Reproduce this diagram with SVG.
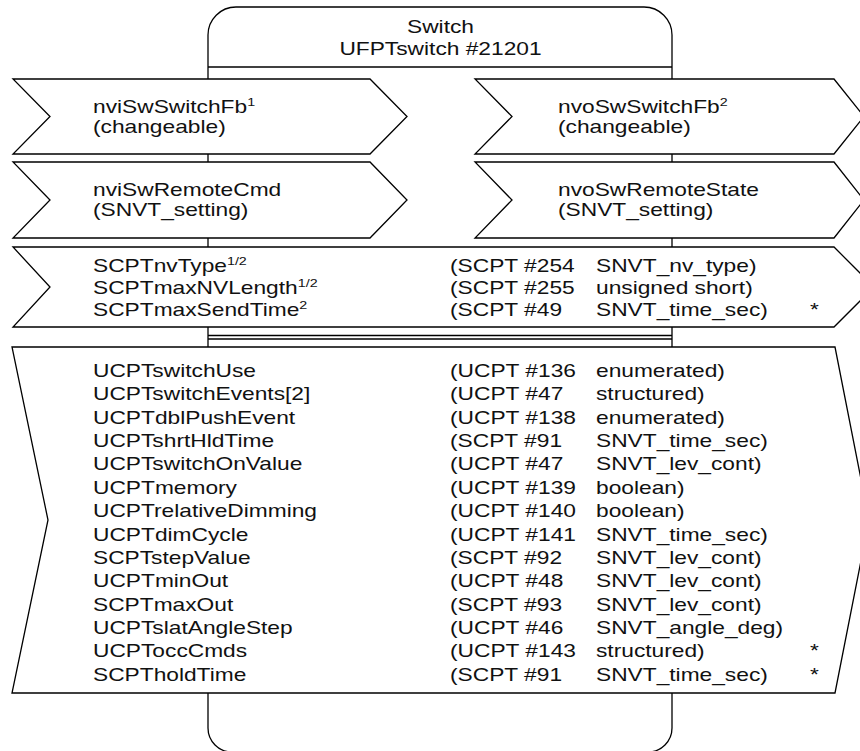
<svg xmlns="http://www.w3.org/2000/svg" width="860" height="751" viewBox="0 0 860 751">
  <style>
    .shape { fill: #fff; stroke: #000; stroke-width: 1.3; stroke-linejoin: miter; }
    .line { fill: none; stroke: #000; stroke-width: 1.3; }
    text { font-family: "Liberation Sans", Arial, sans-serif; font-size: 17.5px; fill: #111; }
    .sup { font-size: 11px; }
    .mid { text-anchor: middle; }
  </style>
  <rect width="860" height="751" fill="#fff"/>

  <!-- functional block body -->
  <g id="block">
    <path class="shape" d="M208,35 A28,28 0 0 1 236,7 L644,7 A28,28 0 0 1 672,35 L672,728 A24,24 0 0 1 648,752 L232,752 A24,24 0 0 1 208,728 Z"/>
    <line class="line" x1="208" y1="67" x2="672" y2="67"/>
    <line class="line" x1="208" y1="335.5" x2="672" y2="335.5"/>
    <line class="line" x1="208" y1="339" x2="672" y2="339"/>
    <text class="mid" transform="matrix(1.3 0 0 1 440.5 33)">Switch</text>
    <text class="mid" transform="matrix(1.3 0 0 1 440.5 55)">UFPTswitch #21201</text>
  </g>

  <g id="connectors"></g>

  <!-- network variable inputs -->
  <g id="nviSwSwitchFb">
    <path class="shape" d="M13,79 L370,79 L407,116.5 L370,154 L13,154 L50,116.5 Z"/>
    <text transform="matrix(1.3 0 0 1 93 113)">nviSwSwitchFb<tspan class="sup" dy="-7">1</tspan></text>
    <text transform="matrix(1.3 0 0 1 93 133)">(changeable)</text>
  </g>
  <g id="nviSwRemoteCmd">
    <path class="shape" d="M13,162 L370,162 L407,200 L370,238 L13,238 L50,200 Z"/>
    <text transform="matrix(1.3 0 0 1 93 196)">nviSwRemoteCmd</text>
    <text transform="matrix(1.3 0 0 1 93 216)">(SNVT_setting)</text>
  </g>

  <!-- network variable outputs -->
  <g id="nvoSwSwitchFb">
    <path class="shape" d="M475,79 L834,79 L864,116.5 L834,154 L475,154 L512,116.5 Z"/>
    <text transform="matrix(1.3 0 0 1 558 113)">nvoSwSwitchFb<tspan class="sup" dy="-7">2</tspan></text>
    <text transform="matrix(1.3 0 0 1 558 133)">(changeable)</text>
  </g>
  <g id="nvoSwRemoteState">
    <path class="shape" d="M475,162 L834,162 L864,200 L834,238 L475,238 L512,200 Z"/>
    <text transform="matrix(1.3 0 0 1 558 196)">nvoSwRemoteState</text>
    <text transform="matrix(1.3 0 0 1 558 216)">(SNVT_setting)</text>
  </g>

  <!-- NV configuration properties -->
  <g id="nvConfigProps">
    <path class="shape" d="M13,247 L834,247 L874,287 L834,327 L13,327 L50,287 Z"/>
    <text transform="matrix(1.3 0 0 1 93 272)">SCPTnvType<tspan class="sup" dy="-7">1/2</tspan></text>
    <text transform="matrix(1.3 0 0 1 93 294)">SCPTmaxNVLength<tspan class="sup" dy="-7">1/2</tspan></text>
    <text transform="matrix(1.3 0 0 1 93 315.5)">SCPTmaxSendTime<tspan class="sup" dy="-7">2</tspan></text>
    <text transform="matrix(1.3 0 0 1 450 272)">(SCPT #254</text>
    <text transform="matrix(1.3 0 0 1 450 294)">(SCPT #255</text>
    <text transform="matrix(1.3 0 0 1 450 315.5)">(SCPT #49</text>
    <text transform="matrix(1.3 0 0 1 596 272)">SNVT_nv_type)</text>
    <text transform="matrix(1.3 0 0 1 596 294)">unsigned short)</text>
    <text transform="matrix(1.3 0 0 1 596 315.5)">SNVT_time_sec)</text>
    <text transform="matrix(1.3 0 0 1 810 315.5)">*</text>
  </g>

  <!-- block configuration properties -->
  <g id="blockConfigProps">
    <path class="shape" d="M12,347 L835,347 L869,520 L835,693 L12,693 L48,520 Z"/>
    <text transform="matrix(1.3 0 0 1 93 377)">UCPTswitchUse</text>
    <text transform="matrix(1.3 0 0 1 93 400.4)">UCPTswitchEvents[2]</text>
    <text transform="matrix(1.3 0 0 1 93 423.7)">UCPTdblPushEvent</text>
    <text transform="matrix(1.3 0 0 1 93 447.1)">UCPTshrtHldTime</text>
    <text transform="matrix(1.3 0 0 1 93 470.4)">UCPTswitchOnValue</text>
    <text transform="matrix(1.3 0 0 1 93 493.8)">UCPTmemory</text>
    <text transform="matrix(1.3 0 0 1 93 517.1)">UCPTrelativeDimming</text>
    <text transform="matrix(1.3 0 0 1 93 540.5)">UCPTdimCycle</text>
    <text transform="matrix(1.3 0 0 1 93 563.8)">SCPTstepValue</text>
    <text transform="matrix(1.3 0 0 1 93 587.2)">UCPTminOut</text>
    <text transform="matrix(1.3 0 0 1 93 610.5)">SCPTmaxOut</text>
    <text transform="matrix(1.3 0 0 1 93 633.9)">UCPTslatAngleStep</text>
    <text transform="matrix(1.3 0 0 1 93 657.2)">UCPToccCmds</text>
    <text transform="matrix(1.3 0 0 1 93 680.6)">SCPTholdTime</text>

    <text transform="matrix(1.3 0 0 1 450 377)">(UCPT #136</text>
    <text transform="matrix(1.3 0 0 1 450 400.4)">(UCPT #47</text>
    <text transform="matrix(1.3 0 0 1 450 423.7)">(UCPT #138</text>
    <text transform="matrix(1.3 0 0 1 450 447.1)">(SCPT #91</text>
    <text transform="matrix(1.3 0 0 1 450 470.4)">(UCPT #47</text>
    <text transform="matrix(1.3 0 0 1 450 493.8)">(UCPT #139</text>
    <text transform="matrix(1.3 0 0 1 450 517.1)">(UCPT #140</text>
    <text transform="matrix(1.3 0 0 1 450 540.5)">(UCPT #141</text>
    <text transform="matrix(1.3 0 0 1 450 563.8)">(SCPT #92</text>
    <text transform="matrix(1.3 0 0 1 450 587.2)">(UCPT #48</text>
    <text transform="matrix(1.3 0 0 1 450 610.5)">(SCPT #93</text>
    <text transform="matrix(1.3 0 0 1 450 633.9)">(UCPT #46</text>
    <text transform="matrix(1.3 0 0 1 450 657.2)">(UCPT #143</text>
    <text transform="matrix(1.3 0 0 1 450 680.6)">(SCPT #91</text>

    <text transform="matrix(1.3 0 0 1 596 377)">enumerated)</text>
    <text transform="matrix(1.3 0 0 1 596 400.4)">structured)</text>
    <text transform="matrix(1.3 0 0 1 596 423.7)">enumerated)</text>
    <text transform="matrix(1.3 0 0 1 596 447.1)">SNVT_time_sec)</text>
    <text transform="matrix(1.3 0 0 1 596 470.4)">SNVT_lev_cont)</text>
    <text transform="matrix(1.3 0 0 1 596 493.8)">boolean)</text>
    <text transform="matrix(1.3 0 0 1 596 517.1)">boolean)</text>
    <text transform="matrix(1.3 0 0 1 596 540.5)">SNVT_time_sec)</text>
    <text transform="matrix(1.3 0 0 1 596 563.8)">SNVT_lev_cont)</text>
    <text transform="matrix(1.3 0 0 1 596 587.2)">SNVT_lev_cont)</text>
    <text transform="matrix(1.3 0 0 1 596 610.5)">SNVT_lev_cont)</text>
    <text transform="matrix(1.3 0 0 1 596 633.9)">SNVT_angle_deg)</text>
    <text transform="matrix(1.3 0 0 1 596 657.2)">structured)</text>
    <text transform="matrix(1.3 0 0 1 596 680.6)">SNVT_time_sec)</text>

    <text transform="matrix(1.3 0 0 1 810 657.2)">*</text>
    <text transform="matrix(1.3 0 0 1 810 680.6)">*</text>
  </g>
</svg>
